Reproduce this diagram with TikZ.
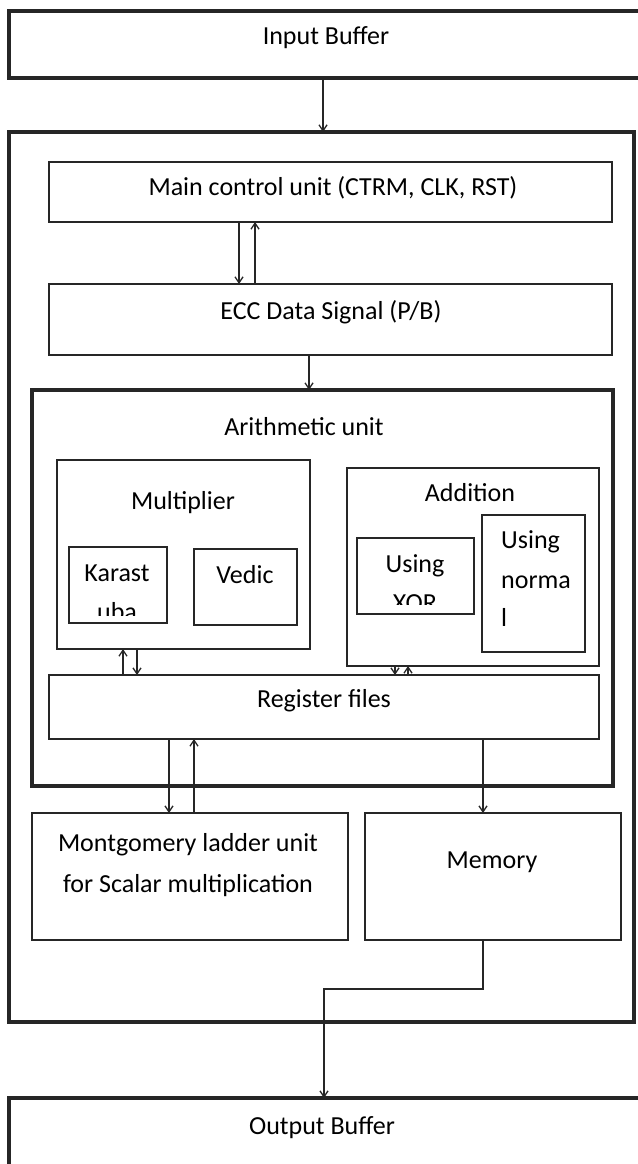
\documentclass[tikz,border=0pt]{standalone}
\usepackage{fontspec}
\setmainfont{Carlito}
\usetikzlibrary{arrows.meta}
\begin{document}
\begin{tikzpicture}[x=1pt,y=-1pt,
  thinbox/.style={draw=black!85,line width=1.6pt,inner sep=0pt,outer sep=0pt,anchor=north west},
  thickbox/.style={draw=black!85,line width=3.2pt,inner sep=0pt,outer sep=0pt,anchor=north west},
  lbl/.style={font=\fontsize{26}{39}\selectfont,anchor=base,inner sep=0pt},
  lbll/.style={lbl,anchor=base west},
  arr/.style={draw=black!85,line width=1.5pt,-{Straight Barb[length=6pt,width=8pt,line width=1.3pt]}},
  wire/.style={draw=black!85,line width=1.5pt}]
\useasboundingbox (0,0) rectangle (637,1164);
\fill[white] (0,0) rectangle (637,1164);
% boxes
\node[thickbox,minimum width=660pt,minimum height=67pt] (inbuf) at (9,11) {};
\node[thickbox,minimum width=625pt,minimum height=890pt] (outer) at (9,132) {};
\node[thinbox,minimum width=563pt,minimum height=60pt] (main) at (49,162) {};
\node[thinbox,minimum width=563pt,minimum height=71pt] (ecc) at (49,284) {};
\node[thickbox,minimum width=581pt,minimum height=396pt] (arith) at (32,390) {};
\node[thinbox,minimum width=253pt,minimum height=189pt] (mult) at (57,460) {};
\node[thinbox,minimum width=98pt,minimum height=76pt] (karast) at (69,547) {};
\node[thinbox,minimum width=103pt,minimum height=76pt] (vedic) at (194,549) {};
\node[thinbox,minimum width=252pt,minimum height=198pt] (add) at (347,468) {};
\node[thinbox,minimum width=117pt,minimum height=76pt] (xor) at (357,538) {};
\node[thinbox,minimum width=103pt,minimum height=137pt] (normal) at (482,515) {};
\node[thinbox,minimum width=550pt,minimum height=64pt] (reg) at (49,675) {};
\node[thinbox,minimum width=316pt,minimum height=127pt] (mont) at (32,813) {};
\node[thinbox,minimum width=256pt,minimum height=127pt] (mem) at (365,813) {};
\node[thickbox,minimum width=660pt,minimum height=100pt] (outbuf) at (9,1098) {};
% texts
\node[lbl] (inbufT) at (326,45) {Input Buffer};
\node[lbl] (mainT) at (333,195) {Main control unit (CTRM, CLK, RST)};
\node[lbl] (eccT) at (331,319) {ECC Data Signal (P/B)};
\node[lbl] (arithT) at (304,435) {Arithmetic unit};
\node[lbl] (multT) at (183,509) {Multiplier};
\node[lbl] (karT) at (117,581) {Karast};
\begin{scope}
\clip (69,547) rectangle (167,615);
\node[lbl] (karT2) at (117,620) {uba};
\end{scope}
\node[lbl] (vedT) at (245,583) {Vedic};
\node[lbl] (addT) at (470,501) {Addition};
\node[lbl] (xorT) at (415,572) {Using};
\begin{scope}
\clip (357,538) rectangle (474,604);
\node[lbl] (xorT2) at (415,611) {XOR};
\end{scope}
\node[lbll] (normT1) at (501,548) {Using};
\node[lbll] (normT2) at (501,588) {norma};
\node[lbll] (normT3) at (501,626) {l};
\node[lbl] (regT) at (324,707) {Register files};
\node[lbl] (montT1) at (188,851) {Montgomery ladder unit};
\node[lbl] (montT2) at (188,892) {for Scalar multiplication};
\node[lbl] (memT) at (492,868) {Memory};
\node[lbl] (outT) at (322,1134) {Output Buffer};
% connectors
\draw[arr] (inbuf.south -| 323,0) -- (outer.north -| 323,0);
\draw[arr] (main.south -| 239,0) -- (ecc.north -| 239,0);
\draw[arr] (ecc.north -| 255,0) -- (main.south -| 255,0);
\draw[arr] (ecc.south -| 309,0) -- (arith.north -| 309,0);
\draw[arr] (reg.north -| 123,0) -- (mult.south -| 123,0);
\draw[arr] (mult.south -| 137,0) -- (reg.north -| 137,0);
\draw[arr] (add.south -| 395,0) -- (reg.north -| 395,0);
\draw[arr] (reg.north -| 408,0) -- (add.south -| 408,0);
\draw[arr] (reg.south -| 169,0) -- (mont.north -| 169,0);
\draw[arr] (mont.north -| 194,0) -- (reg.south -| 194,0);
\draw[arr] (reg.south -| 483,0) -- (mem.north -| 483,0);
\coordinate (bend) at (324,989);
\draw[arr] (mem.south -| 483,0) |- (bend) -- (outbuf.north -| bend);
\end{tikzpicture}
\end{document}
